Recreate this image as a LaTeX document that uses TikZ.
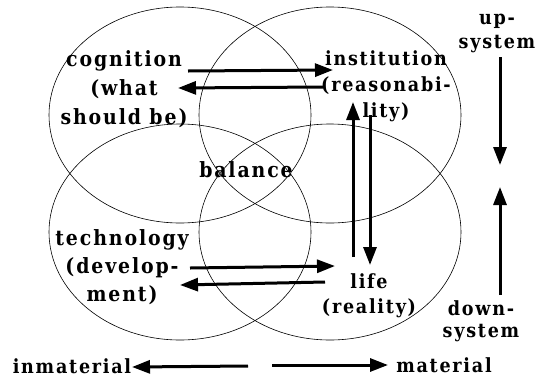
\documentclass[tikz,border=0pt]{standalone}
\usepackage{fontspec}
\usetikzlibrary{arrows.meta,shapes.geometric}
\newfontfamily\diagfont{DejaVu Serif Condensed}[LetterSpace=9]

\begin{document}
\begin{tikzpicture}[
  x=1pt, y=-1pt,
  zone/.style={draw, ellipse, line width=0.6pt, minimum width=262pt, minimum height=216pt, inner sep=0pt},
  lab/.style={align=center, inner sep=0pt, font=\diagfont\bfseries\fontsize{21}{29}\selectfont},
  smalllab/.style={lab, font=\diagfont\bfseries\fontsize{19.5}{25}\selectfont},
  flow/.style={-{Triangle[length=18pt, width=13pt]}, line width=3pt}
]
\useasboundingbox (0,0) rectangle (545,378);

% the four overlapping fields
\node[zone] (cogzone) at (180,115) {};
\node[zone] (instzone) at (330,115) {};
\node[zone] (techzone) at (180,232) {};
\node[zone] (lifezone) at (330,232) {};

\node[lab] (cognition) at (124,89) {cognition\\(what\\should be)};
\node[smalllab, font=\diagfont\bfseries\fontsize{19.5}{26}\selectfont] (institution) at (386,86) {institution\\(reasonabi-\\lity)};
\node[lab] (balance) at (246,170) {balance};
\node[lab, font=\diagfont\bfseries\fontsize{21}{28}\selectfont] (technology) at (122,267) {technology\\(develop-\\ment)};
\node[smalllab] (life) at (369,296) {life\\(reality)};
\node[smalllab, font=\diagfont\bfseries\fontsize{19.5}{24}\selectfont] (upsys) at (497,33) {up-\\system};
\node[smalllab, font=\diagfont\bfseries\fontsize{19.5}{22}\selectfont] (downsys) at (481,321) {down-\\system};
\node[smalllab] (inmaterial) at (72,366) {inmaterial};
\node[smalllab] (material) at (444,365) {material};
\coordinate (pivot) at (500,176);
\coordinate (axis) at (260,366);

\draw[flow] ([shift={(64,-18)}]cognition.center) -- ([shift={(-53,-16)}]institution.center);
\draw[flow] ([shift={(-63,1)}]institution.center) -- ([shift={(54,-1)}]cognition.center);
\draw[flow] ([shift={(-16,-39)}]life.center) -- ([shift={(-33,16)}]institution.center);
\draw[flow] ([shift={(-16,29)}]institution.center) -- ([shift={(1,-31)}]life.center);
\draw[flow] ([shift={(68,1)}]technology.center) -- ([shift={(-34,-30)}]life.center);
\draw[flow] ([shift={(-44,-14)}]life.center) -- ([shift={(58,18)}]technology.center);
\draw[flow] ([shift={(3,24)}]upsys.center) -- ([shift={(0,-11)}]pivot);
\draw[flow] ([shift={(19,-26)}]downsys.center) -- ([shift={(0,11)}]pivot);
\draw[flow] ([shift={(-12,0)}]axis) -- ([shift={(60,1)}]inmaterial.center);
\draw[flow] ([shift={(12,-1)}]axis) -- ([shift={(-56,0)}]material.center);
\end{tikzpicture}
\end{document}
